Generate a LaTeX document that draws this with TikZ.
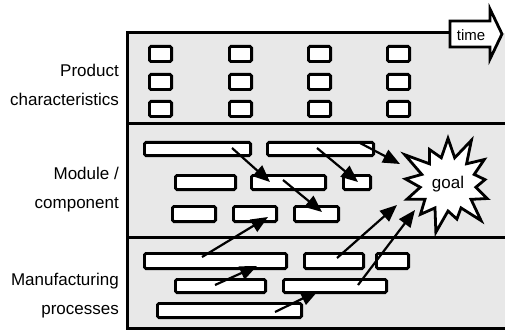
\documentclass[tikz,border=0pt]{standalone}
\usepackage{fontspec}
\setmainfont{Liberation Sans}
\usetikzlibrary{arrows.meta,shapes.symbols}
\definecolor{panel}{HTML}{E8E8E8}
\tikzset{
 cell/.style={draw, fill=white, line width=2.9pt, rounded corners=1.5pt, inner sep=0pt},
 link/.style={line width=2.2pt, -{Triangle[length=17pt,width=14pt]}},
 rowlabel/.style={anchor=east, align=right, font=\fontsize{17}{29}\selectfont, inner sep=0pt},
 frameline/.style={line width=3pt},
}
\newcommand\cellnode[5]{\node[cell, minimum width={#4-#2-2.9}, minimum height={#5-#3-2.9}] (#1) at ({(#2+#4)/2},{(#3+#5)/2}) {};}
\begin{document}
\begin{tikzpicture}[x=1pt,y=-1pt]
\useasboundingbox (0,0) rectangle (505,331);
\fill[panel] (127,33) rectangle (505,328);
\draw[frameline] (450,33) -- (127,33) -- (127,328) -- (505,328);
\draw[frameline] (127,124) -- (505,124);
\draw[frameline] (127,237) -- (505,237);
% product characteristics
\foreach \x [count=\i] in {148,228,307,386} {
  \foreach \y [count=\j] in {45,73,100} {
    \cellnode{p\i\j}{\x}{\y}{\x+25}{\y+18}
  }
}
% module / component
\cellnode{mA}{143}{141}{252}{157}
\cellnode{mB}{266}{141}{375}{157}
\cellnode{mC}{174}{174}{237}{191}
\cellnode{mD}{250}{174}{327}{191}
\cellnode{mE}{342}{174}{372}{191}
\cellnode{mF}{171}{205}{217}{223}
\cellnode{mG}{232}{205}{278}{223}
\cellnode{mH}{293}{205}{340}{223}
% manufacturing
\cellnode{fA}{143}{252}{288}{270}
\cellnode{fB}{303}{252}{365}{270}
\cellnode{fC}{375}{252}{410}{270}
\cellnode{fD}{174}{278}{267}{294}
\cellnode{fE}{282}{278}{388}{294}
\cellnode{fF}{156}{302}{303}{319}
% goal
\node[starburst, draw, fill=white, line width=2.8pt, starburst points=13, starburst point height=26pt, minimum width=108pt, minimum height=106pt, inner sep=0pt, font=\fontsize{17}{20}\selectfont] (goal) at (448,184) {goal};
% time arrow
\draw[line width=2.8pt, fill=white, line join=miter] (450,21) -- (490,21) -- (490,9) -- (502,34) -- (490,59) -- (490,47) -- (450,47) -- cycle;
\node[font=\fontsize{15}{17}\selectfont, inner sep=0pt] (time) at (471,35) {time};
% arrow end points
\coordinate (a1s) at (232,148); \coordinate (a1e) at (270,182);
\coordinate (a2s) at (317,148); \coordinate (a2e) at (358,182);
\coordinate (a3s) at (360,143); \coordinate (a3e) at (400,164);
\coordinate (a4s) at (283,180); \coordinate (a4e) at (322,212);
\coordinate (a5s) at (202,257); \coordinate (a5e) at (268,217);
\coordinate (a6s) at (337,258); \coordinate (a6e) at (397,205);
\coordinate (a7s) at (358,285); \coordinate (a7e) at (415,210);
\coordinate (m1s) at (215,285); \coordinate (m1e) at (257,266);
\coordinate (m2s) at (275,312); \coordinate (m2e) at (318,291);
\foreach \n in {a1,a2,a3,a4,a5,a6,a7,m1,m2} {
  \draw[link] (\n s) -- (\n e);
}
% labels
\node[rowlabel] (l1) at (119,85) {Product\\characteristics};
\node[rowlabel] (l2) at (119,190) {Module /\\component};
\node[rowlabel] (l3) at (119,296) {Manufacturing\\processes};
\end{tikzpicture}
\end{document}
